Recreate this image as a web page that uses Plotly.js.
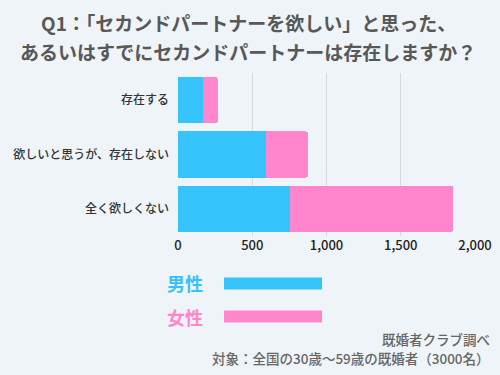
<!DOCTYPE html>
<html>
<head>
<meta charset="utf-8">
<script src="https://cdn.plot.ly/plotly-3.0.1.min.js"></script>
<style>html,body{margin:0;padding:0;background:#EEF4F8;}#chart{width:500px;height:375px;}</style>
</head>
<body>
<div id="chart"></div>
<script>
const categories = ["存在する", "欲しいと思うが、存在しない", "全く欲しくない"];
const maleValues = [170, 590, 755];
const femaleValues = [98, 288, 1100];
const seriesNames = ["男性", "女性"];
const xTickValues = [0, 500, 1000, 1500, 2000];
const xTickLabels = ["0", "500", "1,000", "1,500", "2,000"];
const titleLines = ["Q1：「セカンドパートナーを欲しい」と思った、", "あるいはすでにセカンドパートナーは存在しますか？"];

const FONT = '"Noto Sans CJK JP", "Noto Sans", sans-serif';
const BLUE = '#36C2FB';
const PINK = '#FF86CC';

const traces = [
  {type: 'bar', orientation: 'h', y: categories, x: maleValues, name: seriesNames[0],
   marker: {color: BLUE, line: {width: 0}}, hoverinfo: 'x+y'},
  {type: 'bar', orientation: 'h', y: categories, x: femaleValues, name: seriesNames[1],
   marker: {color: PINK, line: {width: 0}}, hoverinfo: 'x+y'}
];

// plot area x 178..475, y 73..236
const layout = {
  width: 500, height: 375,
  paper_bgcolor: '#EEF4F8', plot_bgcolor: '#EEF4F8',
  barmode: 'stack', bargap: 0.15, barcornerradius: 3,
  showlegend: false,
  margin: {l: 178, r: 25, t: 73, b: 139},
  font: {family: FONT, color: '#333'},
  xaxis: {
    range: [0, 2000], tickvals: xTickValues, ticktext: xTickLabels,
    showgrid: true, gridcolor: '#D5DADE', gridwidth: 1, zeroline: false,
    showline: false, ticks: '', tickfont: {size: 13, color: '#222', weight: 500},
    fixedrange: true
  },
  yaxis: {
    categoryorder: 'array', categoryarray: categories, autorange: 'reversed',
    showgrid: false, zeroline: false, showline: false, ticks: '',
    ticklabelstandoff: 8, tickfont: {size: 12, color: '#333', weight: 500}, fixedrange: true
  },
  shapes: [
    {type: 'line', xref: 'paper', yref: 'paper', x0: 0.155, x1: 0.485, y0: -0.291, y1: -0.291,
     line: {color: BLUE, width: 12}},
    {type: 'line', xref: 'paper', yref: 'paper', x0: 0.155, x1: 0.485, y0: -0.494, y1: -0.494,
     line: {color: PINK, width: 12}}
  ],
  annotations: [
    {text: '<b>' + titleLines[0] + '</b>', xref: 'paper', yref: 'paper', x: 0.236, y: 1.307,
     xanchor: 'center', yanchor: 'middle', showarrow: false, font: {family: FONT, size: 19, color: '#585858'}},
    {text: '<b>' + titleLines[1] + '</b>', xref: 'paper', yref: 'paper', x: 0.236, y: 1.129,
     xanchor: 'center', yanchor: 'middle', showarrow: false, font: {family: FONT, size: 19, color: '#585858'}},
    {text: '<b>' + seriesNames[0] + '</b>', xref: 'paper', yref: 'paper', x: 0.024, y: -0.291,
     xanchor: 'center', yanchor: 'middle', showarrow: false, font: {family: FONT, size: 18, color: BLUE}},
    {text: '<b>' + seriesNames[1] + '</b>', xref: 'paper', yref: 'paper', x: 0.024, y: -0.494,
     xanchor: 'center', yanchor: 'middle', showarrow: false, font: {family: FONT, size: 18, color: PINK}},
    {text: '既婚者クラブ調べ', xref: 'paper', yref: 'paper', x: 1.057, y: -0.630,
     xanchor: 'right', yanchor: 'middle', showarrow: false, font: {family: FONT, size: 13.5, color: '#666', weight: 500}},
    {text: '対象：全国の30歳～59歳の既婚者（3000名）', xref: 'paper', yref: 'paper', x: 1.057, y: -0.750,
     xanchor: 'right', yanchor: 'middle', showarrow: false, font: {family: FONT, size: 13.5, color: '#666', weight: 500}}
  ]
};

Plotly.newPlot('chart', traces, layout, {displayModeBar: false, responsive: false});
</script>
</body>
</html>
